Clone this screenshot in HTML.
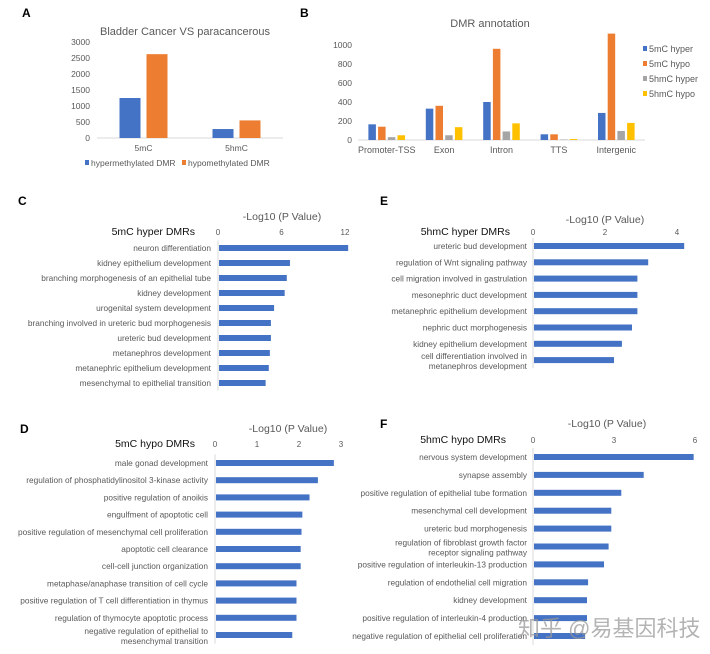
<!DOCTYPE html>
<html><head><meta charset="utf-8"><style>
html,body{margin:0;padding:0;background:#fff;}
svg{display:block;font-family:"Liberation Sans","Noto Sans CJK SC",sans-serif;}
</style></head><body>
<svg id="fig" width="710" height="654" viewBox="0 0 710 654" xmlns="http://www.w3.org/2000/svg">
<g font-weight="bold" font-size="12" fill="#000">
<text x="22" y="17">A</text>
<text x="300" y="17">B</text>
<text x="18" y="205">C</text>
<text x="380" y="205">E</text>
<text x="20" y="433">D</text>
<text x="380" y="428">F</text>
</g>
<g id="gA"></g>
<g id="gB"></g>
<g id="gC"></g>
<g id="gE"></g>
<g id="gD"></g>
<g id="gF"></g>
<text x="518" y="636" font-size="22" fill="#999" fill-opacity="0.75">知乎 @易基因科技</text>
</svg>
<script>
const NS="http://www.w3.org/2000/svg";
const BLUE="#4472C4",ORANGE="#ED7D31",GRAY="#A5A5A5",YELLOW="#FFC000",TXT="#595959";
// Panel A data
const aCategories=["5mC","5hmC"];
const aHyper=[1250,280];
const aHypo=[2620,550];
const aTicks=[0,500,1000,1500,2000,2500,3000];
// Panel B data
const bCategories=["Promoter-TSS","Exon","Intron","TTS","Intergenic"];
const b5mCHyper=[165,330,400,60,285];
const b5mCHypo=[140,360,960,60,1120];
const b5hmCHyper=[30,50,90,5,95];
const b5hmCHypo=[50,135,175,10,180];
const bTicks=[0,200,400,600,800,1000];
const bSeriesNames=["5mC hyper","5mC hypo","5hmC hyper","5hmC hypo"];
// Panel C
const cTerms=["neuron differentiation","kidney epithelium development","branching morphogenesis of an epithelial tube","kidney development","urogenital system development","branching involved in ureteric bud morphogenesis","ureteric bud development","metanephros development","metanephric epithelium development","mesenchymal to epithelial transition"];
const cValues=[12.3,6.8,6.5,6.3,5.3,5.0,5.0,4.9,4.8,4.5];
const cTicks=[0,6,12];
// Panel E
const eTerms=["ureteric bud development","regulation of Wnt signaling pathway","cell migration involved in gastrulation","mesonephric duct development","metanephric epithelium development","nephric duct morphogenesis","kidney epithelium development","cell differentiation involved in|metanephros development"];
const eValues=[4.2,3.2,2.9,2.9,2.9,2.75,2.47,2.25];
const eTicks=[0,2,4];
// Panel D
const dTerms=["male gonad development","regulation of phosphatidylinositol 3-kinase activity","positive regulation of anoikis","engulfment of apoptotic cell","positive regulation of mesenchymal cell proliferation","apoptotic cell clearance","cell-cell junction organization","metaphase/anaphase transition of cell cycle","positive regulation of T cell differentiation in thymus","regulation of thymocyte apoptotic process","negative regulation of epithelial to|mesenchymal transition"];
const dValues=[2.83,2.45,2.25,2.08,2.06,2.04,2.04,1.94,1.94,1.94,1.84];
const dTicks=[0,1,2,3];
// Panel F
const fTerms=["nervous system development","synapse assembly","positive regulation of epithelial tube formation","mesenchymal cell development","ureteric bud morphogenesis","regulation of fibroblast growth factor|receptor signaling pathway","positive regulation of interleukin-13 production","regulation of endothelial cell migration","kidney development","positive regulation of interleukin-4 production","negative regulation of epithelial cell proliferation"];
const fValues=[5.95,4.1,3.27,2.9,2.9,2.8,2.63,2.04,2.0,2.0,1.93];
const fTicks=[0,3,6];

function mk(parent,tag,attrs,txt){const e=document.createElementNS(NS,tag);for(const k in attrs)e.setAttribute(k,attrs[k]);if(txt!==undefined)e.textContent=txt;parent.appendChild(e);return e;}

// Panel A
(function(){
const g=document.getElementById('gA');
const x0=97,x1=283,yb=138,yt=42,max=3000;
const y=v=>yb-(v/max)*(yb-yt);
const t=mk(g,'text',{x:185,y:35,'font-size':11,fill:TXT,'text-anchor':'middle'},'Bladder Cancer VS paracancerous');

aTicks.forEach(v=>{const e=mk(g,'text',{x:90,y:y(v)+3,'font-size':8.5,fill:TXT,'text-anchor':'end'},String(v));
});
const ax=mk(g,'line',{x1:x0,x2:x1,y1:yb,y2:yb,stroke:'#d9d9d9','stroke-width':1});

const cw=(x1-x0)/aCategories.length;
aCategories.forEach((c,i)=>{const cx=x0+cw*(i+0.5);const bw=21,gap=6;
const r1=mk(g,'rect',{x:cx-gap/2-bw,y:y(aHyper[i]),width:bw,height:yb-y(aHyper[i]),fill:BLUE});

const r2=mk(g,'rect',{x:cx+gap/2,y:y(aHypo[i]),width:bw,height:yb-y(aHypo[i]),fill:ORANGE});

const l=mk(g,'text',{x:cx,y:151,'font-size':8.5,fill:TXT,'text-anchor':'middle'},c);
});
[[85,BLUE,'hypermethylated DMR'],[182,ORANGE,'hypomethylated DMR']].forEach(([lx,col,nm])=>{
const s=mk(g,'rect',{x:lx,y:160,width:4,height:5,fill:col});
const e=mk(g,'text',{x:lx+6,y:166,'font-size':8.5,fill:TXT},nm);});
})();

// Panel B
(function(){
const g=document.getElementById('gB');
const x0=358,x1=645,yb=140,max=1000,top=45;
const y=v=>yb-(v/max)*(yb-top);
const t=mk(g,'text',{x:490,y:27,'font-size':11,fill:TXT,'text-anchor':'middle'},'DMR annotation');

bTicks.forEach(v=>{const e=mk(g,'text',{x:352,y:y(v)+3,'font-size':8.5,fill:TXT,'text-anchor':'end'},String(v));
});
const ax=mk(g,'line',{x1:x0,x2:x1,y1:yb,y2:yb,stroke:'#d9d9d9','stroke-width':1});

const series=[b5mCHyper,b5mCHypo,b5hmCHyper,b5hmCHypo],cols=[BLUE,ORANGE,GRAY,YELLOW];
const cw=(x1-x0)/bCategories.length,bw=7.5,gap=2.2,gw=4*bw+3*gap;
bCategories.forEach((c,i)=>{const cx=x0+cw*(i+0.5);
series.forEach((s,j)=>{const r=mk(g,'rect',{x:cx-gw/2+j*(bw+gap),y:y(s[i]),width:bw,height:yb-y(s[i]),fill:cols[j]});
});
const l=mk(g,'text',{x:cx,y:153,'font-size':9,fill:TXT,'text-anchor':'middle'},c);
});
bSeriesNames.forEach((n,j)=>{const ly=49+j*15;
const s=mk(g,'rect',{x:643,y:ly-3,width:4,height:5,fill:cols[j]});
const e=mk(g,'text',{x:649,y:ly+3,'font-size':9,fill:TXT},n);});
})();

// Horizontal bar panels
function hbar(id,title,terms,vals,ticks,o){
const g=document.getElementById(id);
const max=ticks[ticks.length-1];
const x=v=>o.x0+(v/max)*(o.xMax-o.x0);
const at=mk(g,'text',{x:o.axisTitleX,y:o.axisTitleY,'font-size':10.5,fill:TXT,'text-anchor':'middle'},'-Log10 (P Value)');

const tt=mk(g,'text',{x:o.titleX,y:o.tickY,'font-size':10.5,fill:'#111','text-anchor':'end'},title);

ticks.forEach(v=>{const e=mk(g,'text',{x:x(v),y:o.tickY,'font-size':8,fill:TXT,'text-anchor':'middle'},String(v));
});
const n=terms.length;
const axl=mk(g,'line',{x1:o.x0,x2:o.x0,y1:o.y0-o.step/2,y2:o.y0+o.step*(n-0.5),stroke:'#d9d9d9','stroke-width':1});

terms.forEach((t,i)=>{const cy=o.y0+o.step*i;
const r=mk(g,'rect',{x:o.x0+1,y:cy-3,width:x(vals[i])-o.x0-1,height:6,fill:BLUE});

const parts=t.split('|');
parts.forEach((p,k)=>{const ly=parts.length>1?cy-1+k*10:cy+3;
const e=mk(g,'text',{x:o.labelX,y:ly,'font-size':8.3,fill:TXT,'text-anchor':'end'},p);
});});
}
hbar('gC','5mC hyper DMRs',cTerms,cValues,cTicks,{x0:218,xMax:345,y0:248,step:15,labelX:211,titleX:195,tickY:235,axisTitleX:282,axisTitleY:220});
hbar('gE','5hmC hyper DMRs',eTerms,eValues,eTicks,{x0:533,xMax:677,y0:246,step:16.3,labelX:527,titleX:510,tickY:235,axisTitleX:605,axisTitleY:223});
hbar('gD','5mC hypo DMRs',dTerms,dValues,dTicks,{x0:215,xMax:341,y0:463,step:17.2,labelX:208,titleX:195,tickY:447,axisTitleX:288,axisTitleY:432});
hbar('gF','5hmC hypo DMRs',fTerms,fValues,fTicks,{x0:533,xMax:695,y0:457,step:17.9,labelX:527,titleX:506,tickY:443,axisTitleX:607,axisTitleY:427});
</script>
</body></html>
